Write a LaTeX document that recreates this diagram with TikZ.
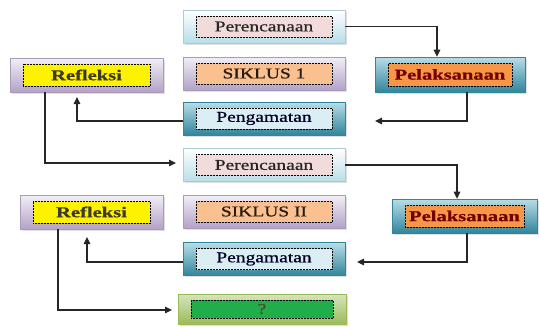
\documentclass[tikz,border=0pt]{standalone}
\usepackage{fontspec}
\setmainfont[FakeStretch=1.3, FakeBold=0.8, BoldFeatures={FakeStretch=1.37}]{Liberation Serif}
\usetikzlibrary{arrows.meta,shadows}
\definecolor{tealD}{HTML}{31859C}
\definecolor{tealM}{HTML}{4BACC6}
\definecolor{tealL}{HTML}{B7DEE8}
\definecolor{lavD}{HTML}{B3A2C7}
\definecolor{lavL}{HTML}{F2EFF6}
\definecolor{olvD}{HTML}{9BBB59}
\definecolor{olvL}{HTML}{D7E4BD}
\definecolor{pinkF}{HTML}{F2DCDB}
\definecolor{orgL}{HTML}{FAC090}
\definecolor{orgD}{HTML}{F79646}
\definecolor{bluF}{HTML}{DAEEF3}
\definecolor{grnF}{HTML}{1FAE4A}
\tikzset{
  outerbox/.style={rectangle, inner sep=0pt, line width=0.6pt,
    drop shadow={opacity=0.25, shadow xshift=1.5pt, shadow yshift=-1.5pt}},
  cyanlight/.style={outerbox, draw=tealL!80!gray, top color=white, middle color=white, bottom color=tealL},
  tealbox/.style={outerbox, draw=tealD, top color=tealL, middle color=tealM!60!white, bottom color=tealD},
  lavbox/.style={outerbox, draw=lavD!80!gray, top color=lavL, middle color=white, bottom color=lavD},
  olvbox/.style={outerbox, draw=olvD, top color=olvL, middle color=olvL!60!white, bottom color=olvD},
  innerbox/.style={rectangle, draw=black, densely dotted, line width=0.5pt, inner sep=0pt,
    font=\fontsize{15}{17}\selectfont},
  arr/.style={draw=black!85, line width=1.1pt, -{Triangle[length=7pt,width=6.5pt]}},
}
\newcommand\mybox[9]{%
  \node[#6, minimum width=#4pt, minimum height=#5pt] (#1) at (#2,#3) {};
  \node[innerbox, fill=#7, text=#9, minimum width={(#4-26)*1pt}, minimum height={(#5-12)*1pt}] (#1i) at (#2,#3) {#8};
}
\begin{document}
\begin{tikzpicture}[x=1pt,y=-1pt]
\useasboundingbox (0,0) rectangle (539,327);
% column of centre boxes
\mybox{p1}{264}{26.5}{162}{33}{cyanlight}{pinkF}{Perencanaan}{black!85}
\mybox{s1}{264}{73.5}{162}{33}{lavbox}{orgL}{SIKLUS 1}{black!80!brown}
\mybox{g1}{264}{118.5}{162}{33}{tealbox}{bluF}{Pengamatan}{black!85!blue}
\mybox{p2}{264}{165}{162}{33}{cyanlight}{pinkF}{Perencanaan}{black!85}
\mybox{s2}{264}{211.5}{162}{33}{lavbox}{orgL}{SIKLUS II}{black!80!brown}
\mybox{g2}{264}{259}{162}{33}{tealbox}{bluF}{Pengamatan}{black!85!blue}
\mybox{q}{262}{309}{168}{30}{olvbox}{grnF}{?}{black!60!olive}
% left boxes
\mybox{r1}{86.5}{75}{153}{34}{lavbox}{yellow}{\textbf{Refleksi}}{black!75!olive}
\mybox{r2}{91.5}{212}{143}{34}{lavbox}{yellow}{\textbf{Refleksi}}{black!75!olive}
% right boxes
\mybox{l1}{450}{74.5}{150}{35}{tealbox}{orgD}{\textbf{Pelaksanaan}}{red!45!black}
\mybox{l2}{464.5}{216}{145}{34}{tealbox}{orgD}{\textbf{Pelaksanaan}}{red!45!black}
% free ends
\coordinate (c1) at (375,121);
\coordinate (a1) at (77,97);
\coordinate (b1) at (176,163);
\coordinate (c2) at (357,262);
\coordinate (a2) at (87,237);
\coordinate (b2) at (172,310);
% connectors
\draw[arr] (p1.east) -| ([xshift=-13pt]l1.north);
\draw[arr] ([xshift=17pt]l1.south) |- (c1);
\draw[arr] ([yshift=-2.5pt]g1.west) -| (a1);
\draw[arr] ([xshift=-41.5pt]r1.south) |- (b1);
\draw[arr] (p2.east) -| ([xshift=-7.5pt]l2.north);
\draw[arr] ([xshift=2.5pt]l2.south) |- (c2);
\draw[arr] ([yshift=-3pt]g2.west) -| (a2);
\draw[arr] ([xshift=-33.5pt]r2.south) |- (b2);
\end{tikzpicture}
\end{document}
